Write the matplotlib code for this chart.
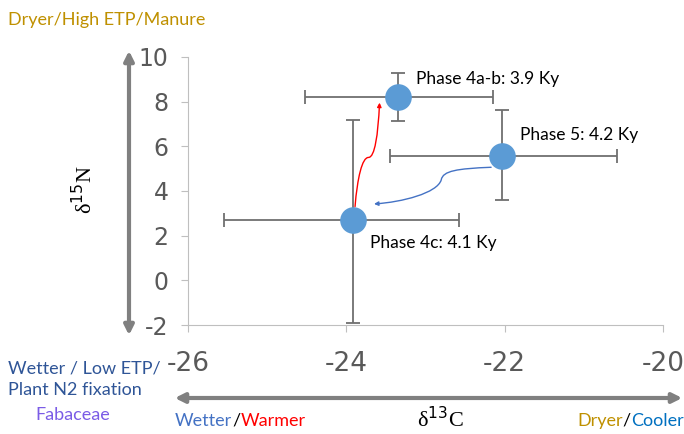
import matplotlib.pyplot as plt
from matplotlib.patches import FancyArrowPatch
from matplotlib.path import Path

# phase means and error bars (d13C, d15N)
phases = ["Phase 4a-b: 3.9 Ky", "Phase 5: 4.2 Ky", "Phase 4c: 4.1 Ky"]
d13c = [-23.35, -22.03, -23.92]
d15n = [8.22, 5.58, 2.70]
xerr_lo = [1.17, 1.42, 1.63]
xerr_hi = [1.20, 1.45, 1.34]
yerr_lo = [1.10, 2.00, 4.60]
yerr_hi = [1.07, 2.05, 4.48]

xticks = [-26, -24, -22, -20]
yticks = [-2, 0, 2, 4, 6, 8, 10]

BLUE = "#5B9BD5"
GOLD = "#BF9000"


def main():
    fig = plt.figure(figsize=(6.84, 4.34), dpi=100)
    ax = fig.add_axes([0.275, 0.251, 0.694, 0.618])

    ax.errorbar(d13c, d15n, xerr=[xerr_lo, xerr_hi], yerr=[yerr_lo, yerr_hi],
                fmt="none", ecolor="#6F6F6F", elinewidth=1.3, capsize=5,
                capthick=1.3, zorder=2)
    ax.scatter(d13c, d15n, s=330, color=BLUE, zorder=3)

    ax.set_xlim(-26, -20)
    ax.set_ylim(-2, 10)
    ax.set_xticks(xticks)
    ax.set_yticks(yticks)
    ax.set_xticklabels([str(t) for t in xticks], fontsize=19, color="#595959")
    ax.set_yticklabels([str(t) for t in yticks], fontsize=17, color="#595959")
    ax.tick_params(axis="x", length=5, color="#BFBFBF", pad=14)
    ax.tick_params(axis="y", length=5, color="#BFBFBF", pad=9)
    for s in ["top", "right"]:
        ax.spines[s].set_visible(False)
    for s in ["left", "bottom"]:
        ax.spines[s].set_color("#BFBFBF")
    ax.patch.set_alpha(0)

    # phase labels
    ax.text(-23.12, 9.0, phases[0], fontsize=12.5, family="Lato", va="center")
    ax.text(-21.8, 6.5, phases[1], fontsize=12.5, family="Lato", va="center")
    ax.text(-23.7, 1.65, phases[2], fontsize=12.5, family="Lato", va="center")

    # transition arrows (curved)
    red_path = Path([(-23.89, 3.3), (-23.86, 4.6), (-23.8, 5.5), (-23.72, 5.5),
                     (-23.64, 5.5), (-23.6, 6.5), (-23.58, 7.95)],
                    [Path.MOVETO, Path.CURVE4, Path.CURVE4, Path.CURVE4,
                     Path.CURVE4, Path.CURVE4, Path.CURVE4])
    ax.add_patch(FancyArrowPatch(path=red_path, arrowstyle="-|>", mutation_scale=6,
                                 color="red", lw=1.0, zorder=4))
    blue_path = Path([(-22.17, 5.06), (-22.6, 5.0), (-22.78, 4.9), (-22.8, 4.5),
                      (-22.85, 3.9), (-23.3, 3.5), (-23.65, 3.42)],
                     [Path.MOVETO, Path.CURVE4, Path.CURVE4, Path.CURVE4,
                      Path.CURVE4, Path.CURVE4, Path.CURVE4])
    ax.add_patch(FancyArrowPatch(path=blue_path, arrowstyle="-|>", mutation_scale=6,
                                 color="#4472C4", lw=1.0, zorder=4))

    # big double arrows
    fig.add_artist(FancyArrowPatch((129, 96), (129, 386), transform=None,
                                   arrowstyle="<|-|>", mutation_scale=14,
                                   color="#808080", lw=3))
    fig.add_artist(FancyArrowPatch((172, 36), (685, 36), transform=None,
                                   arrowstyle="<|-|>", mutation_scale=14,
                                   color="#808080", lw=3))

    # axis labels
    fig.text(85 / 684, 1 - 190 / 434, "δ$^{15}$N", rotation=90,
             fontsize=16, family="Liberation Serif", ha="center", va="center")
    fig.text(440 / 684, 1 - 420 / 434, "δ$^{13}$C",
             fontsize=16, family="Liberation Serif", ha="center", va="center")

    # side annotations
    fig.text(8 / 684, 1 - 20 / 434, "Dryer/High ETP/Manure", color=GOLD,
             fontsize=13, family="Lato", va="center")
    fig.text(8 / 684, 1 - 379 / 434, "Wetter / Low ETP/\nPlant N2 fixation",
             color="#2F5597", fontsize=13, family="Lato", va="center",
             linespacing=1.4)
    fig.text(35 / 684, 1 - 415 / 434, "Fabaceae", color="#7B5CE6",
             fontsize=13, family="Lato", va="center")

    x0 = 175 / 684
    y0 = 1 - 421 / 434
    t = fig.text(x0, y0, "Wetter", color="#4472C4", fontsize=13, family="Lato",
                 va="center")
    fig.canvas.draw()
    r = fig.canvas.get_renderer()
    bb = t.get_window_extent(r)
    t2 = fig.text(bb.x1 / 684, y0, "/", color="black", fontsize=13,
                  family="Lato", va="center")
    bb2 = t2.get_window_extent(r)
    fig.text(bb2.x1 / 684, y0, "Warmer", color="red", fontsize=13,
             family="Lato", va="center")

    t = fig.text(577 / 684, y0, "Dryer", color=GOLD, fontsize=13,
                 family="Lato", va="center")
    bb = t.get_window_extent(r)
    t2 = fig.text(bb.x1 / 684, y0, "/", color="black", fontsize=13,
                  family="Lato", va="center")
    bb2 = t2.get_window_extent(r)
    fig.text(bb2.x1 / 684, y0, "Cooler", color="#0070C0", fontsize=13,
             family="Lato", va="center")

    fig.savefig("out.png", dpi=100)


if __name__ == "__main__":
    main()
